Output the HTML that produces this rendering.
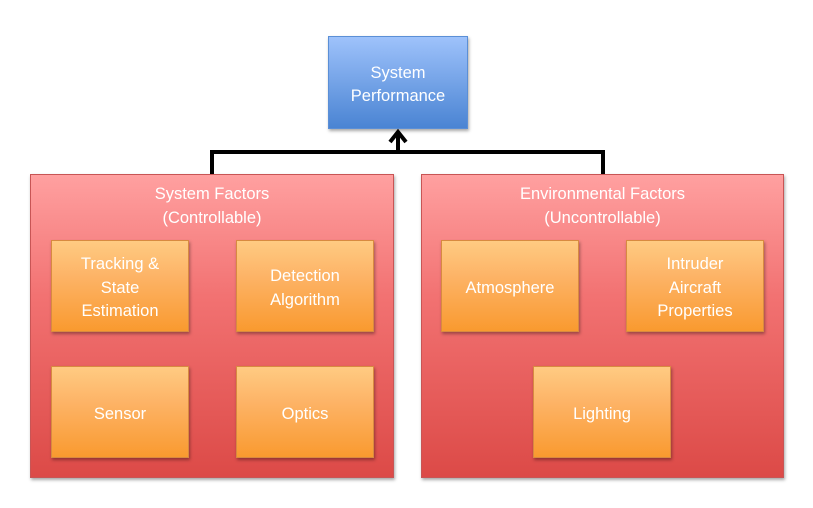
<!DOCTYPE html>
<html><head><style>
body{margin:0;width:813px;height:508px;background:#fff;position:relative;overflow:hidden;font-family:"Liberation Sans",sans-serif;}
.b{position:absolute;box-sizing:border-box;color:#fff;text-align:center;display:flex;align-items:center;justify-content:center;font-size:16.5px;line-height:23.5px;padding-top:5px;box-shadow:1px 2px 3px rgba(0,0,0,0.35);}
.blue{background:linear-gradient(#9ec2fb,#4a84d3);border:1px solid #5b8fd6;}
.red{background:linear-gradient(#ffa0a0,#f27272 40%,#dc4a47);border:1px solid #c85555;align-items:flex-start;padding-top:8px;}
.or{background:linear-gradient(#ffcb82,#fdb366 40%,#f99a2f);border:1px solid #d88a40;}
</style></head><body>
<div class="b blue" style="left:328px;top:36px;width:140px;height:93px;">System<br>Performance</div>
<svg style="position:absolute;left:0;top:0" width="813" height="508">
<polyline points="212,176 212,152 603,152 603,176" fill="none" stroke="#000" stroke-width="4"/>
<line x1="398" y1="152" x2="398" y2="132" stroke="#000" stroke-width="4"/>
<polyline points="390,142 398,132 406,142" fill="none" stroke="#000" stroke-width="4"/>
</svg>
<div class="b red" style="left:30px;top:174px;width:364px;height:304px;">System Factors<br>(Controllable)</div>
<div class="b red" style="left:421px;top:174px;width:363px;height:304px;">Environmental Factors<br>(Uncontrollable)</div>
<div class="b or" style="left:51px;top:240px;width:138px;height:92px;">Tracking &amp;<br>State<br>Estimation</div>
<div class="b or" style="left:236px;top:240px;width:138px;height:92px;">Detection<br>Algorithm</div>
<div class="b or" style="left:51px;top:366px;width:138px;height:92px;">Sensor</div>
<div class="b or" style="left:236px;top:366px;width:138px;height:92px;">Optics</div>
<div class="b or" style="left:441px;top:240px;width:138px;height:92px;">Atmosphere</div>
<div class="b or" style="left:626px;top:240px;width:138px;height:92px;">Intruder<br>Aircraft<br>Properties</div>
<div class="b or" style="left:533px;top:366px;width:138px;height:92px;">Lighting</div>
</body></html>
